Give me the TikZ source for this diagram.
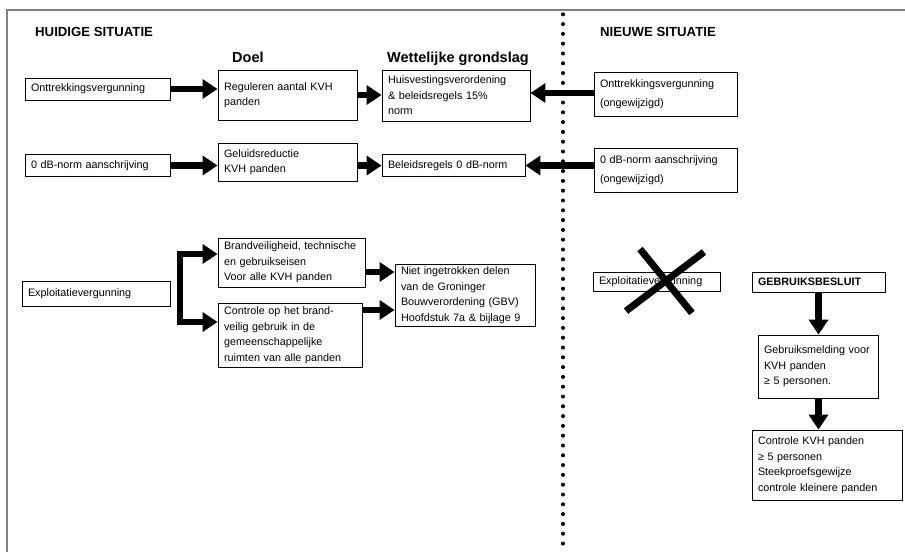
\documentclass[tikz,border=0pt]{standalone}
\usepackage{fontspec}
\setmainfont{Liberation Sans}
\usetikzlibrary{arrows.meta}
\begin{document}
\begin{tikzpicture}[x=1pt,y=-1pt,
  box/.style={draw, line width=0.9pt, inner xsep=6pt, inner ysep=2pt, align=left,
    font=\fontsize{10.8}{15.5}\selectfont},
  fat/.style={line width=6.5pt, -{Triangle[length=15pt,width=19pt]}},
  head/.style={font=\bfseries\fontsize{13.2}{15}\selectfont, anchor=base west, inner sep=0pt},
  subhead/.style={font=\bfseries\fontsize{14.5}{16}\selectfont, anchor=base west, inner sep=0pt},
  frame/.style={draw=black!50, line width=1.3pt},
  divider/.style={line width=3.4pt, line cap=round, dash pattern=on 0.6pt off 9.2pt},
  cross/.style={line width=7pt}
  ]
\useasboundingbox (0,0) rectangle (905,552);

% frame
\coordinate (fTL) at (7,10);
\coordinate (fTR) at (905,10);
\coordinate (fBL) at (7,552);
\draw[frame] (fBL) -- (fTL) -- (fTR);

% divider
\coordinate (dT) at (563,14);
\coordinate (dB) at (563,552);
\draw[divider] (dT) -- (dB);

% headings
\node[head] (hHuidig) at (35,36) {HUIDIGE SITUATIE};
\node[head] (hNieuw) at (600,36) {NIEUWE SITUATIE};
\node[subhead] (hDoel) at (232,62) {Doel};
\node[subhead] (hWet) at (387,62) {Wettelijke grondslag};

% row 1
\node[box, minimum width=145pt, minimum height=22pt, text width=133pt] (A1) at (97.5,89) {Onttrekkingsvergunning};
\node[box, minimum width=139pt, minimum height=50pt, text width=127pt] (B1) at (287.5,95) {Reguleren aantal KVH\\panden};
\node[box, minimum width=148pt, minimum height=51pt, text width=136pt] (C1) at (456,95.5) {Huisvestingsverordening\\\& beleidsregels 15\%\\norm};
\node[box, minimum width=143pt, minimum height=44pt, text width=131pt] (D1) at (665.5,94) {Onttrekkingsvergunning\\[4pt](ongewijzigd)};

% row 2
\node[box, minimum width=145pt, minimum height=22pt, text width=133pt] (A2) at (97.5,165.5) {0 dB-norm aanschrijving};
\node[box, minimum width=139pt, minimum height=38pt, text width=127pt] (B2) at (287.5,162) {Geluidsreductie\\KVH panden};
\node[box, minimum width=143pt, minimum height=22pt, text width=131pt] (C2) at (453.5,165.5) {Beleidsregels 0 dB-norm};
\node[box, minimum width=143pt, minimum height=44pt, text width=131pt] (D2) at (665.5,170) {0 dB-norm aanschrijving\\[4pt](ongewijzigd)};

% row 3
\node[box, minimum width=148pt, minimum height=25pt, text width=136pt] (A3) at (96,293.5) {Exploitatievergunning};
\node[box, minimum width=147pt, minimum height=49pt, text width=135pt] (B3) at (291.5,262.5) {Brandveiligheid, technische\\en gebruikseisen\\Voor alle KVH panden};
\node[box, minimum width=144pt, minimum height=64pt, text width=132pt] (B4) at (290,335) {Controle op het brand-\\veilig gebruik in de\\gemeenschappelijke\\ruimten van alle panden};
\node[box, minimum width=140pt, minimum height=62pt, text width=128pt] (C3) at (465,295) {Niet ingetrokken delen\\van de Groninger\\Bouwverordening (GBV)\\Hoofdstuk 7a \& bijlage 9};

% right column
\node[box, minimum width=127pt, minimum height=19pt, text width=115pt] (E1) at (656.5,282) {Exploitatievergunning};
\node[box, minimum width=133pt, minimum height=20pt, text width=121pt, font=\bfseries\fontsize{10.8}{15.5}\selectfont] (F1) at (818.5,282) {GEBRUIKSBESLUIT};
\node[box, minimum width=120pt, minimum height=63pt, text width=108pt] (F2) at (818,366.5) {Gebruiksmelding voor\\KVH panden\\ ≥ 5 personen.};
\node[box, minimum width=150pt, minimum height=70pt, text width=138pt] (F3) at (827,465) {Controle KVH panden\\≥ 5 personen\\Steekproefsgewijze\\controle kleinere panden};

% cross over the abolished permit
\coordinate (x1a) at (640,249);
\coordinate (x1b) at (692,313);
\coordinate (x2a) at (704,252);
\coordinate (x2b) at (626,311);
\draw[cross] (x1a) -- (x1b);
\draw[cross] (x2a) -- (x2b);

% row 1 arrows
\draw[fat] (A1.east) -- (A1.east -| B1.west);
\draw[fat] (B1.east) -- (B1.east -| C1.west);
\coordinate (d1y) at (0,93);
\draw[fat] (D1.west |- d1y) -- (C1.east |- d1y);

% row 2 arrows
\draw[fat] (A2.east) -- (A2.east -| B2.west);
\draw[fat] (B2.east |- A2.east) -- (C2.west);
\draw[fat] (D2.west |- C2.east) -- (C2.east);

% row 3 bracket
\coordinate (bM) at (180,293.5);
\coordinate (bT) at (180,254);
\coordinate (bB) at (180,322);
\draw[fat] (bM) -- (bT) -- (bT -| B3.west);
\draw[fat] (bM) -- (bB) -- (bB -| B4.west);
\coordinate (r3a) at (0,272);
\coordinate (r3b) at (0,310);
\draw[fat] (B3.east |- r3a) -- (C3.west |- r3a);
\draw[fat] (B4.east |- r3b) -- (C3.west |- r3b);

% right column arrows
\draw[fat] (F1.south) -- (F1.south |- F2.north);
\draw[fat] (F1.south |- F2.south) -- (F1.south |- F3.north);
\end{tikzpicture}
\end{document}
